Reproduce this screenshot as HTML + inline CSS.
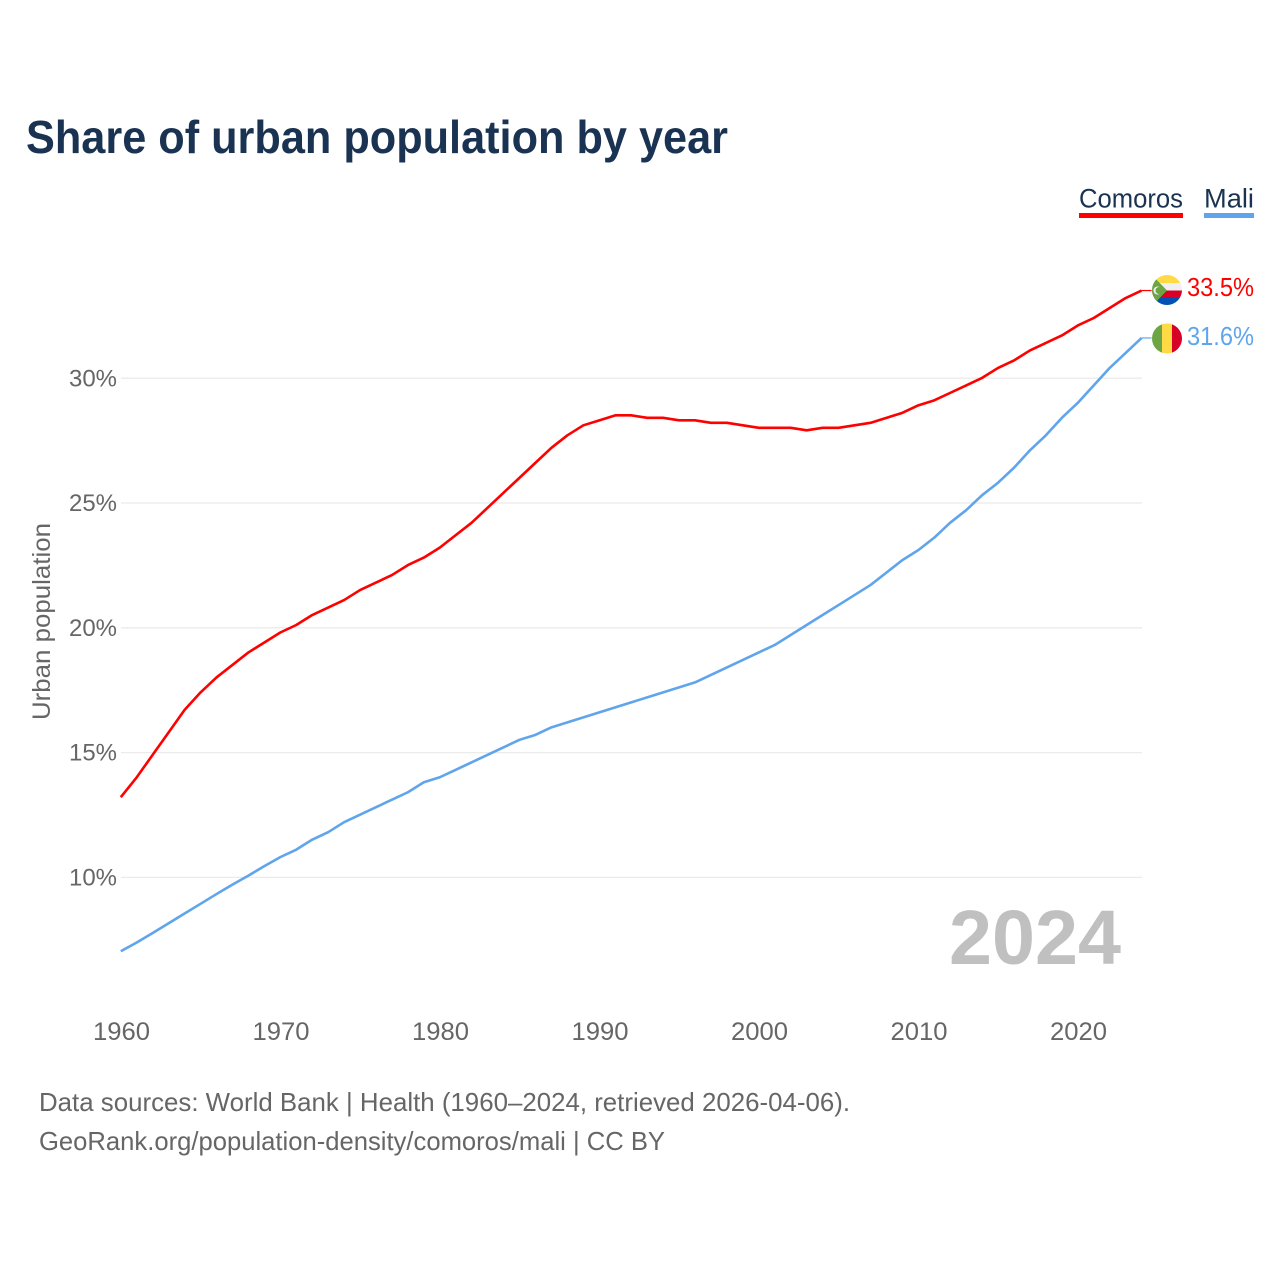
<!DOCTYPE html>
<html lang="en">
<head>
<meta charset="utf-8">
<title>Share of urban population by year</title>
<style>
html,body{margin:0;padding:0;background:#fff;}
svg{display:block;font-family:"Liberation Sans",sans-serif;}
</style>
</head>
<body>
<svg id="chart" width="1280" height="1280" viewBox="0 0 1280 1280" xmlns="http://www.w3.org/2000/svg">
<defs>
<clipPath id="clip-km"><circle cx="1167" cy="290" r="15"/></clipPath>
<clipPath id="clip-ml"><circle cx="1167" cy="338.5" r="15"/></clipPath>
</defs>
<text x="26" y="153" font-size="46" font-weight="700" fill="#1a3352" textLength="702" lengthAdjust="spacingAndGlyphs">Share of urban population by year</text>
<g>
<text x="1079" y="207.5" font-size="27" fill="#1a3352" textLength="104" lengthAdjust="spacingAndGlyphs">Comoros</text>
<rect x="1079" y="213" width="104" height="5" fill="#ff0000"/>
</g>
<g>
<text x="1204" y="207.5" font-size="27" fill="#1a3352" textLength="50" lengthAdjust="spacingAndGlyphs">Mali</text>
<rect x="1204" y="213" width="50" height="5" fill="#60a5ec"/>
</g>
<g id="grid"></g>
<g id="yticks"></g>
<g id="xticks"></g>
<text transform="translate(50,720) rotate(-90)" font-size="25" fill="#666666" textLength="197" lengthAdjust="spacingAndGlyphs">Urban population</text>
<text x="949" y="964" font-size="77" font-weight="700" fill="#c0c0c0" textLength="172" lengthAdjust="spacingAndGlyphs">2024</text>
<g id="series"></g>
<g clip-path="url(#clip-km)">
<rect x="1152" y="275" width="30" height="8.5" fill="#ffda44"/>
<rect x="1152" y="283" width="30" height="8" fill="#f0f0f0"/>
<rect x="1152" y="290.5" width="30" height="8" fill="#d80027"/>
<rect x="1152" y="298" width="30" height="8" fill="#0052b4"/>
<polygon points="1152,275 1152,306 1167,290.5" fill="#6da544"/>
<circle cx="1157.5" cy="290.5" r="4" fill="#f0f0f0"/>
<circle cx="1159" cy="290.5" r="3.5" fill="#6da544"/>
</g>
<g clip-path="url(#clip-ml)">
<rect x="1152" y="323.5" width="10" height="30" fill="#6da544"/>
<rect x="1162" y="323.5" width="10" height="30" fill="#ffda44"/>
<rect x="1172" y="323.5" width="10" height="30" fill="#d80027"/>
</g>
<text x="1187" y="296" font-size="25.5" fill="#ff0000" textLength="67" lengthAdjust="spacingAndGlyphs">33.5%</text>
<text x="1187" y="345" font-size="25.5" fill="#60a5ec" textLength="67" lengthAdjust="spacingAndGlyphs">31.6%</text>
<text x="39" y="1111" font-size="26" fill="#666666" textLength="811" lengthAdjust="spacingAndGlyphs">Data sources: World Bank | Health (1960–2024, retrieved 2026-04-06).</text>
<text x="39" y="1150" font-size="26" fill="#666666" textLength="626" lengthAdjust="spacingAndGlyphs">GeoRank.org/population-density/comoros/mali | CC BY</text>
</svg>
<script>
var years = [1960,1961,1962,1963,1964,1965,1966,1967,1968,1969,1970,1971,1972,1973,1974,1975,1976,1977,1978,1979,1980,1981,1982,1983,1984,1985,1986,1987,1988,1989,1990,1991,1992,1993,1994,1995,1996,1997,1998,1999,2000,2001,2002,2003,2004,2005,2006,2007,2008,2009,2010,2011,2012,2013,2014,2015,2016,2017,2018,2019,2020,2021,2022,2023,2024];
var comoros = [13.2,14.0,14.9,15.8,16.7,17.4,18.0,18.5,19.0,19.4,19.8,20.1,20.5,20.8,21.1,21.5,21.8,22.1,22.5,22.8,23.2,23.7,24.2,24.8,25.4,26.0,26.6,27.2,27.7,28.1,28.3,28.5,28.5,28.4,28.4,28.3,28.3,28.2,28.2,28.1,28.0,28.0,28.0,27.9,28.0,28.0,28.1,28.2,28.4,28.6,28.9,29.1,29.4,29.7,30.0,30.4,30.7,31.1,31.4,31.7,32.1,32.4,32.8,33.2,33.5];
var mali = [7.03,7.38,7.76,8.15,8.54,8.93,9.32,9.7,10.06,10.44,10.8,11.1,11.5,11.8,12.2,12.5,12.8,13.1,13.4,13.8,14.0,14.3,14.6,14.9,15.2,15.5,15.7,16.0,16.2,16.4,16.6,16.8,17.0,17.2,17.4,17.6,17.8,18.1,18.4,18.7,19.0,19.3,19.7,20.1,20.5,20.9,21.3,21.7,22.2,22.7,23.1,23.6,24.2,24.7,25.3,25.8,26.4,27.1,27.7,28.4,29.0,29.7,30.4,31.0,31.6];
var yTicks = [10,15,20,25,30];
var xTicks = [1960,1970,1980,1990,2000,2010,2020];

var NS = 'http://www.w3.org/2000/svg';
function xScale(year){ return 120.8 + (year - 1960) * 15.95; }
function yScale(v){ return 877.1 - (v - 10) * 24.96; }
function make(tag, parent, attrs){
  var el = document.createElementNS(NS, tag);
  for (var k in attrs) { el.setAttribute(k, attrs[k]); }
  parent.appendChild(el);
  return el;
}

var grid = document.getElementById('grid');
var yGroup = document.getElementById('yticks');
yTicks.forEach(function(t){
  var line = make('line', grid, {x1:121, x2:1142, y1:yScale(t) + 0.3, y2:yScale(t) + 0.3, stroke:'#ebebeb', 'stroke-width':1.3});
  
  
  var label = make('text', yGroup, {x:117, y:yScale(t) + 8.4, 'text-anchor':'end', 'font-size':24.5, fill:'#666666', textLength:48, lengthAdjust:'spacingAndGlyphs'});
  
  
  label.textContent = t + '%';
});

var xGroup = document.getElementById('xticks');
xTicks.forEach(function(t){
  var label = make('text', xGroup, {x:xScale(t) + 0.7, y:1040, 'text-anchor':'middle', 'font-size':25, fill:'#666666', textLength:57, lengthAdjust:'spacingAndGlyphs'});
  
  
  label.textContent = t;
});

var seriesGroup = document.getElementById('series');
function drawSeries(values, color, name){
  var pts = values.map(function(v, i){ return xScale(years[i]).toFixed(2) + ',' + yScale(v).toFixed(2); });
  var line = make('polyline', seriesGroup, {points:pts.join(' '), fill:'none', stroke:color, 'stroke-width':2.6, 'stroke-linejoin':'round'});
  
  
  var lastY = yScale(values[values.length - 1]);
  var lastX = xScale(years[years.length - 1]);
  var lead = make('line', seriesGroup, {x1:lastX, x2:lastX + 10, y1:lastY, y2:lastY, stroke:color, 'stroke-width':1.2});
  
  
}
drawSeries(comoros, '#ff0000', 'comoros');
drawSeries(mali, '#60a5ec', 'mali');
</script>
</body>
</html>
